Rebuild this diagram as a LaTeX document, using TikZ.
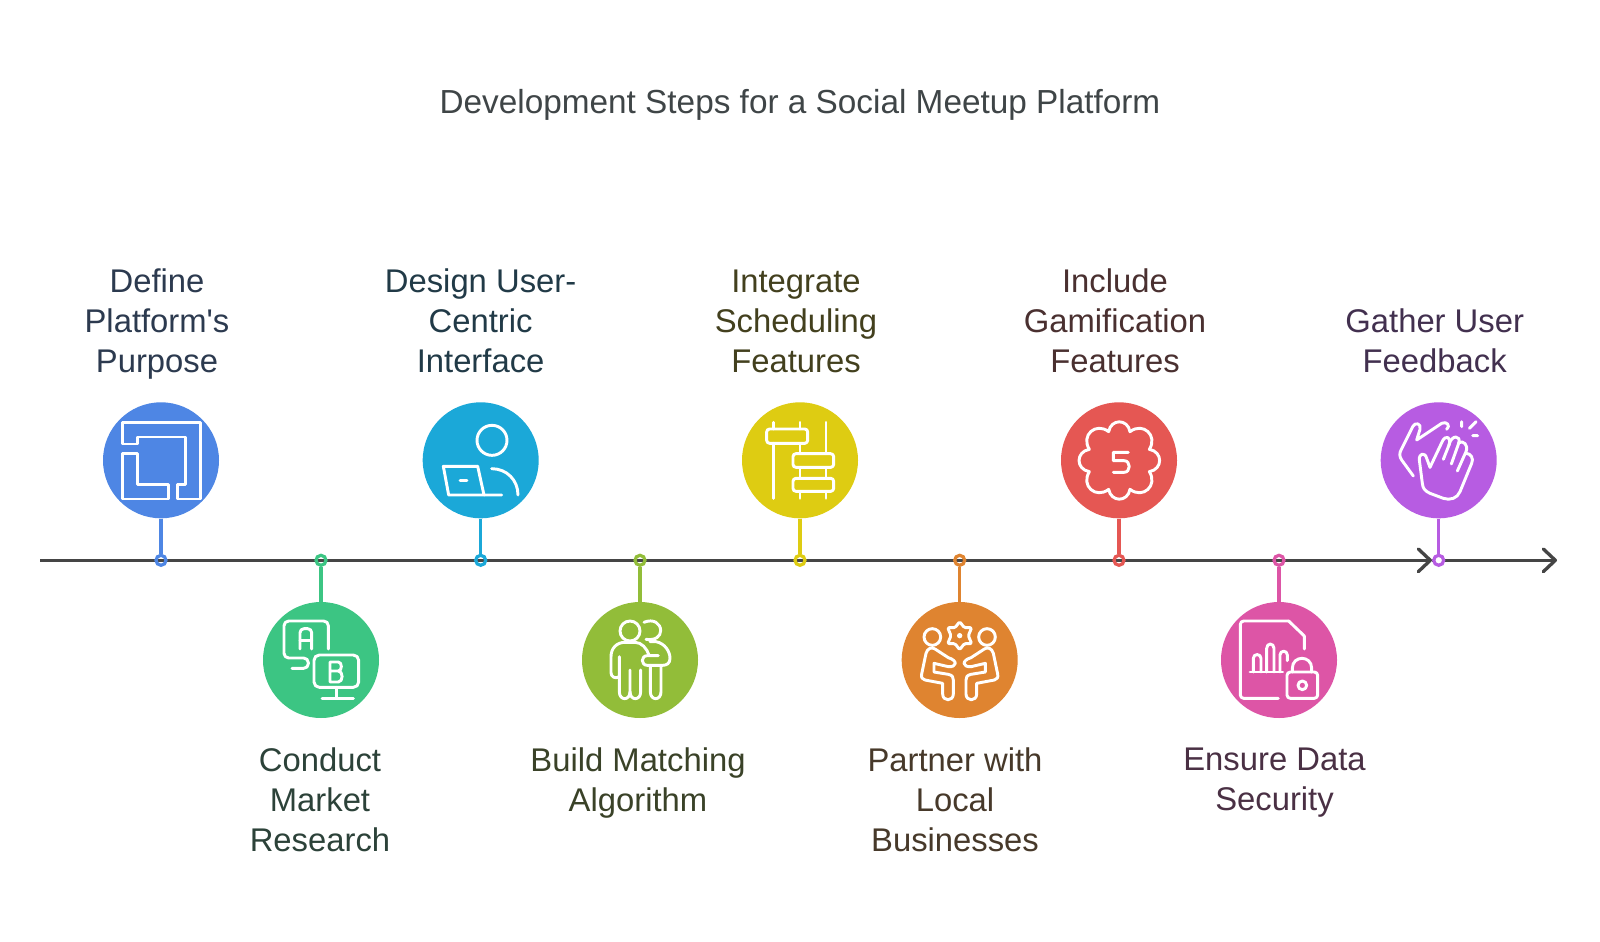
\documentclass[tikz,border=0pt]{standalone}
\usepackage{fontspec}
\setmainfont{Liberation Sans}
\usetikzlibrary{arrows.meta}
\definecolor{cA}{HTML}{4E86E4}\definecolor{cB}{HTML}{3CC583}\definecolor{cC}{HTML}{1BA8D8}
\definecolor{cD}{HTML}{92BD39}\definecolor{cE}{HTML}{DECC12}\definecolor{cF}{HTML}{DF8430}
\definecolor{cG}{HTML}{E55753}\definecolor{cH}{HTML}{DD55A6}\definecolor{cI}{HTML}{B75CE2}
\definecolor{axis}{HTML}{454545}
\definecolor{tA}{HTML}{2C3A4F}\definecolor{tB}{HTML}{2C4239}\definecolor{tC}{HTML}{213A47}
\definecolor{tD}{HTML}{3A4228}\definecolor{tE}{HTML}{43401E}\definecolor{tF}{HTML}{47392A}
\definecolor{tG}{HTML}{4A3030}\definecolor{tH}{HTML}{4A3044}\definecolor{tI}{HTML}{42304F}
\definecolor{tT}{HTML}{3F4547}
\tikzset{
 disc/.style={circle,fill=#1,minimum size=87pt,inner sep=0pt,draw=none},
 dot/.style={circle,draw=#1,line width=2.4pt,minimum size=7.5pt,inner sep=0pt},
 stem/.style={draw=#1,line width=2.5pt},
 lab/.style={align=center,font=\fontsize{24.6}{30}\selectfont,text=#1,inner sep=0pt},
 axisline/.style={axis,line width=2.5pt,-{Straight Barb[length=9pt,width=17pt,line width=2.5pt,round]}},
 ico/.style={x=.25pt,y=-.25pt,white,line width=2.2pt,line cap=round,line join=round},
}
\begin{document}
\begin{tikzpicture}[x=.75pt,y=-.75pt]
\useasboundingbox (0,0) rectangle (1600,942);
\fill[white] (0,0) rectangle (1600,942);
\node[font=\fontsize{25}{30}\selectfont,text=tT,inner sep=0pt] (title) at (800,105) {Development Steps for a Social Meetup Platform};
% axis
\coordinate (axstart) at (40,560.3);
\coordinate (axmid) at (1432,560.3);
\coordinate (axend) at (1557,560.3);
\draw[axisline] (axstart) -- (axmid);
\draw[axisline] (axmid) -- (axend);
% discs
\node[disc=cA] (c1) at (161,460.3) {};
\node[disc=cB] (c2) at (321,660) {};
\node[disc=cC] (c3) at (480.7,460.3) {};
\node[disc=cD] (c4) at (640,660) {};
\node[disc=cE] (c5) at (800,460.3) {};
\node[disc=cF] (c6) at (959.7,660) {};
\node[disc=cG] (c7) at (1119,460.3) {};
\node[disc=cH] (c8) at (1279,660) {};
\node[disc=cI] (c9) at (1438.7,460.3) {};
% dots
\node[dot=cA] (d1) at (161,560.3) {};
\node[dot=cB] (d2) at (321,560.3) {};
\node[dot=cC] (d3) at (480.7,560.3) {};
\node[dot=cD] (d4) at (640,560.3) {};
\node[dot=cE] (d5) at (800,560.3) {};
\node[dot=cF] (d6) at (959.7,560.3) {};
\node[dot=cG] (d7) at (1119,560.3) {};
\node[dot=cH] (d8) at (1279,560.3) {};
\node[dot=cI,fill=white] (d9) at (1438.7,560.3) {};
% stems
\draw[stem=cA] (c1.south) -- (d1.north);
\draw[stem=cB] (c2.north) -- (d2.south);
\draw[stem=cC] (c3.south) -- (d3.north);
\draw[stem=cD] (c4.north) -- (d4.south);
\draw[stem=cE] (c5.south) -- (d5.north);
\draw[stem=cF] (c6.north) -- (d6.south);
\draw[stem=cG] (c7.south) -- (d7.north);
\draw[stem=cH] (c8.north) -- (d8.south);
\draw[stem=cI] (c9.south) -- (d9.north);
% labels
\node[lab=tA] (l1) at (157,324) {Define\\Platform\textquotesingle s\\Purpose};
\node[lab=tB] (l2) at (320,800) {Conduct\\Market\\Research};
\node[lab=tC] (l3) at (480.6,321) {Design User-\\Centric\\Interface};
\node[lab=tD] (l4) at (638,783) {Build Matching\\Algorithm};
\node[lab=tE] (l5) at (796,321) {Integrate\\Scheduling\\Features};
\node[lab=tF] (l6) at (955,800) {Partner with\\Local\\Businesses};
\node[lab=tG] (l7) at (1115,321) {Include\\Gamification\\Features};
\node[lab=tH] (l8) at (1274.5,783) {Ensure Data\\Security};
\node[lab=tI] (l9) at (1434.7,341) {Gather User\\Feedback};
% icons, zoom 1
\begin{scope}[shift={(90,390)},ico]
\draw (97,97)--(331,97)--(331,327)--(262,327)--(262,283)--(287,283)--(287,141)--(143,141)--(143,162)--(97,162)--cycle;
\draw (97,190)--(143,190)--(143,283)--(236,283)--(236,327)--(97,327)--cycle;
\draw (1206,151) circle[radius=45];
\draw (1163,229)--(1060,229)--(1076,315)--(1235,315);
\draw (1163,229)--(1182,315);
\draw (1110,271)--(1131,271);
\draw (1205,236) .. controls (1250,236) and (1284,270) .. (1284,315);
\draw[rounded corners=3.5pt] (715,777)--(715,693)--(582,693)--(582,804)--(655,804)--(655,835)--(606,835);
\draw[rounded corners=3pt] (630,777)--(630,716)--(665,716)--(665,777);
\draw (630,752)--(665,752);
\draw[rounded corners=4pt] (672,795) rectangle (806,892);
\draw (740,892)--(740,925) (696,925)--(790,925);
\draw (720,843)--(745,843) .. controls (757,843) and (757,816) .. (745,816) -- (720,816) -- (720,876) -- (745,876) .. controls (760,876) and (760,843) .. (745,843);
\end{scope}
% icons, zoom 2
\begin{scope}[shift={(570,390)},ico]
% people
\draw (180,723) circle[radius=30];
\draw (148,800)--(148,905) .. controls (148,933) and (180,933) .. (180,905) -- (180,840);
\draw (180,905) .. controls (180,933) and (212,933) .. (212,905) -- (212,840);
\draw (148,860) .. controls (135,868) and (123,860) .. (123,848) -- (123,800) .. controls (123,775) and (140,757) .. (165,757) -- (195,757) .. controls (215,757) and (230,775) .. (237,795);
\draw (222,697) .. controls (250,685) and (272,700) .. (272,722) .. controls (272,740) and (255,752) .. (228,748);
\draw (240,755) -- (258,755) .. controls (285,760) and (300,785) .. (300,805) .. controls (300,820) and (290,826) .. (278,826) -- (232,826) .. controls (212,826) and (212,797) .. (232,797) -- (265,797);
\draw (241,826)--(241,905) .. controls (241,933) and (273,933) .. (273,905) -- (273,826);
% abacus
\draw (611,97)--(611,117) (611,160)--(611,325);
\draw (690,97)--(690,117) (690,160)--(690,191) (690,232)--(690,265) (690,304)--(690,325);
\draw (768,97)--(768,191) (768,232)--(768,265) (768,304)--(768,325);
\draw[rounded corners=2.2pt] (590,117) rectangle (713,160);
\draw[rounded corners=2.2pt] (669,191) rectangle (791,232);
\draw[rounded corners=2.2pt] (669,265) rectangle (791,304);
% meeting
\draw (1087,741) circle[radius=25];
\draw (1251,741) circle[radius=25];
\fill (1169,737) circle[radius=8];
\draw[rounded corners=1pt] (1169,695)--(1183,713)--(1205,713)--(1195,737)--(1205,761)--(1183,761)--(1169,779)--(1155,761)--(1133,761)--(1143,737)--(1133,713)--(1155,713)--cycle;
\draw (1095,777) -- (1135,803) .. controls (1165,812) and (1160,832) .. (1135,830) -- (1092,820) -- (1092,846) -- (1135,853) .. controls (1148,856) and (1150,862) .. (1150,870) -- (1150,912) .. controls (1150,935) and (1118,935) .. (1118,912) -- (1118,880) -- (1065,870) .. controls (1056,868) and (1053,862) .. (1055,852) -- (1068,790) .. controls (1072,775) and (1085,770) .. (1095,777);
\draw (1243,777) -- (1203,803) .. controls (1173,812) and (1178,832) .. (1203,830) -- (1246,820) -- (1246,846) -- (1203,853) .. controls (1190,856) and (1188,862) .. (1188,870) -- (1188,912) .. controls (1188,935) and (1220,935) .. (1220,912) -- (1220,880) -- (1273,870) .. controls (1282,868) and (1285,862) .. (1283,852) -- (1270,790) .. controls (1266,775) and (1253,770) .. (1243,777);
\end{scope}
% icons, zoom 3
\begin{scope}[shift={(1050,390)},ico]
% flower
\draw[looseness=1.6] (176,125) to[bend left=80] (240,125) to[bend left=80] (298,178) to[bend left=80] (298,245) to[bend left=80] (240,298) to[bend left=80] (176,298) to[bend left=80] (118,245) to[bend left=80] (118,178) to[bend left=80] (176,125) -- cycle;
\draw (235,187)--(190,187)--(190,212)--(222,212) .. controls (243,212) and (243,247) .. (222,247) -- (190,247);
% document
\draw[rounded corners=2.5pt] (685,925)--(571,925)--(571,693)--(716,693);
\draw (716,693)--(763,738)--(763,777);
\draw (600,846)--(698,846);
\draw (610,846)--(610,805) .. controls (610,790) and (633,790) .. (633,805) -- (633,846);
\draw (650,846)--(650,775) .. controls (650,758) and (672,758) .. (672,775) -- (672,846);
\draw (690,846)--(690,795) .. controls (690,780) and (712,780) .. (712,795) -- (712,812);
\draw[rounded corners=2.5pt] (711,846) rectangle (803,925);
\draw (727,846)--(727,835) .. controls (727,795) and (785,795) .. (785,835) -- (785,846);
\draw (757,886) circle[radius=13];
% hands
\draw (1090,258)--(1055,210) .. controls (1048,200) and (1048,190) .. (1053,180) -- (1088,110) .. controls (1095,95) and (1115,100) .. (1110,118) -- (1100,150) -- (1175,100) .. controls (1190,92) and (1203,108) .. (1190,118);
\draw (1140,232)--(1178,152) .. controls (1187,135) and (1205,140) .. (1197,165) -- (1180,208);
\draw (1197,165) .. controls (1203,133) and (1235,135) .. (1226,160) -- (1204,222);
\draw (1226,158) .. controls (1240,150) and (1256,165) .. (1248,185) -- (1222,243);
\draw (1248,190) .. controls (1262,190) and (1272,205) .. (1265,220) -- (1230,305) .. controls (1222,325) and (1200,332) .. (1180,325) -- (1140,310) .. controls (1125,303) and (1118,295) .. (1117,280) -- (1108,210) .. controls (1106,190) and (1125,185) .. (1130,205) -- (1140,232);
\draw (1235,95)--(1235,110) (1258,115)--(1278,95) (1268,137)--(1283,137);
\end{scope}
\end{tikzpicture}
\end{document}
